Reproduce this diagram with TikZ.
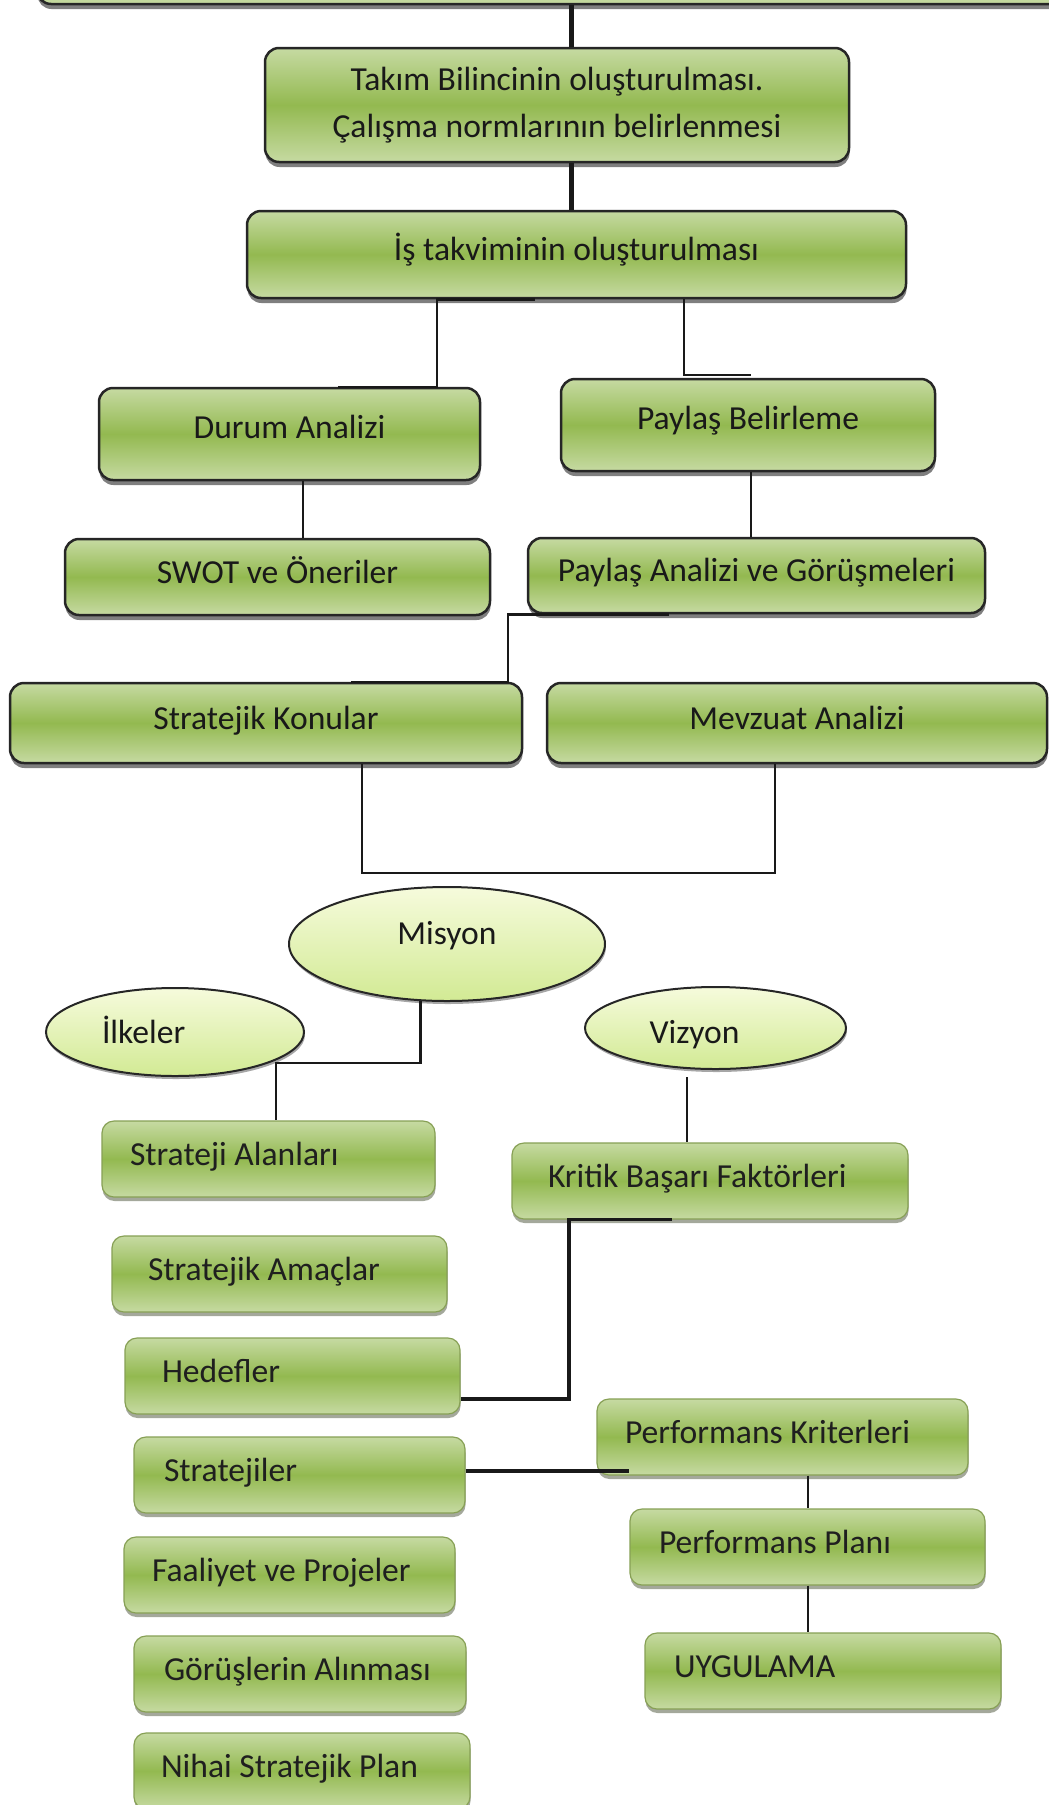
\documentclass[tikz,border=0pt]{standalone}
\usepackage{fontspec}
\setmainfont{Carlito}
\usetikzlibrary{shadows,shapes.geometric,calc}
\definecolor{boxL}{RGB}{198,218,162}
\definecolor{boxM}{RGB}{147,185,80}
\definecolor{boxB}{RGB}{135,160,85}
\definecolor{ellT}{RGB}{246,251,220}
\definecolor{ellB}{RGB}{210,234,148}
\newcommand\dgfont{\fontsize{33.6}{47}\selectfont}
\newcommand\lefttxt[2]{\makebox[#1][l]{#2}}
\tikzset{
  boxbase/.style={rectangle, rounded corners=14pt, draw=black!85, line width=2.5pt,
    top color=boxL, bottom color=boxL, middle color=boxM,
    drop shadow={shadow xshift=0.5pt, shadow yshift=-5pt, fill=black, opacity=0.5},
    font=\dgfont, text=black!90, inner sep=0pt, align=center},
  ubox/.style={boxbase, text height=24pt, text depth=12pt},
  lbox/.style={rectangle, rounded corners=12pt, draw=boxB, line width=1.2pt,
    top color=boxL, bottom color=boxL, middle color=boxM,
    drop shadow={shadow xshift=0.5pt, shadow yshift=-4pt, fill=black!60!boxB, opacity=0.45},
    font=\dgfont, text=black!88, inner sep=0pt,
    text height=24pt, text depth=12pt},
  ell/.style={ellipse, draw=black!85, line width=2pt, top color=ellT, bottom color=ellB,
    drop shadow={shadow xshift=1pt, shadow yshift=-3pt, fill=black, opacity=0.35},
    font=\dgfont, text=black!90, inner sep=0pt},
  conn/.style={draw=black!90, line width=2.5pt},
  midconn/.style={draw=black!90, line width=3.5pt},
  thickconn/.style={draw=black!90, line width=5pt}
}
\begin{document}
\begin{tikzpicture}[x=1pt,y=-1pt]
\useasboundingbox (0,0) rectangle (1049,1805);
\fill[white] (0,0) rectangle (1049,1805);
\clip (0,0) rectangle (1049,1805);

% upper boxes
\node[ubox, minimum width=1064pt, minimum height=108pt] (topbox) at (569,-50) {};
\node[boxbase, minimum width=584pt, minimum height=114pt] (takim) at (557,105)
  {Takım Bilincinin oluşturulması.\\Çalışma normlarının belirlenmesi};
\node[ubox, minimum width=659pt, minimum height=87pt] (is) at (576.5,254.5) {İş takviminin oluşturulması};
\node[ubox, minimum width=381pt, minimum height=92pt, text depth=16pt] (durum) at (289.5,434) {Durum Analizi};
\node[ubox, minimum width=374pt, minimum height=92pt, text depth=16pt] (paylasB) at (748,425) {Paylaş Belirleme};
\node[ubox, minimum width=425pt, minimum height=76pt] (swot) at (277.5,577) {SWOT ve Öneriler};
\node[ubox, minimum width=457pt, minimum height=75pt] (paylasA) at (756.5,575.5) {Paylaş Analizi ve Görüşmeleri};
\node[ubox, minimum width=512pt, minimum height=80pt] (stratK) at (266,723) {Stratejik Konular};
\node[ubox, minimum width=500pt, minimum height=80pt] (mevzuat) at (797,723) {Mevzuat Analizi};

% ellipses
\node[ell, minimum width=316pt, minimum height=114pt, text height=20pt, text depth=20pt] (misyon) at (447,944) {Misyon};
\node[ell, minimum width=258pt, minimum height=88pt, text height=24pt, text depth=2pt] (ilkeler) at (175,1032) {\lefttxt{146pt}{İlkeler}};
\node[ell, minimum width=261pt, minimum height=82pt, text height=32pt, text depth=2pt] (vizyon) at (715.5,1028) {\lefttxt{132pt}{Vizyon}};

% lower boxes
\node[lbox, minimum width=333pt, minimum height=76pt] (stratA) at (268.5,1159) {\lefttxt{277pt}{Strateji Alanları}};
\node[lbox, minimum width=396pt, minimum height=76pt] (kritik) at (710,1181) {\lefttxt{324pt}{Kritik Başarı Faktörleri}};
\node[lbox, minimum width=335pt, minimum height=76pt] (amac) at (279.5,1274) {\lefttxt{263pt}{Stratejik Amaçlar}};
\node[lbox, minimum width=335pt, minimum height=76pt] (hedef) at (292.5,1376) {\lefttxt{261pt}{Hedefler}};
\node[lbox, minimum width=331pt, minimum height=76pt] (stratjiler) at (299.5,1475) {\lefttxt{271pt}{Stratejiler}};
\node[lbox, minimum width=371pt, minimum height=76pt] (perfK) at (782.5,1437) {\lefttxt{315pt}{Performans Kriterleri}};
\node[lbox, minimum width=355pt, minimum height=76pt] (perfP) at (807.5,1547) {\lefttxt{297pt}{Performans Planı}};
\node[lbox, minimum width=356pt, minimum height=76pt] (uyg) at (823,1671) {\lefttxt{298pt}{UYGULAMA}};
\node[lbox, minimum width=331pt, minimum height=76pt] (faal) at (289.5,1575) {\lefttxt{275pt}{Faaliyet ve Projeler}};
\node[lbox, minimum width=332pt, minimum height=76pt] (gorus) at (300,1674) {\lefttxt{272pt}{Görüşlerin Alınması}};
\node[lbox, minimum width=336pt, minimum height=76pt] (nihai) at (302,1771) {\lefttxt{282pt}{Nihai Stratejik Plan}};

% free ends
\coordinate (pkend) at (629,1471);

% connectors
\draw[thickconn] (topbox.south -| 571,0) -- (takim.north -| 571,0);
\draw[thickconn] (takim.south -| 571,0) -- (is.north -| 571,0);
\draw[conn] (is.south -| 535,0) -- (is.south -| 437,0) -- (durum.north -| 437,0) -- (durum.north -| 338,0);
\draw[conn] (is.south -| 684,0) |- ([yshift=3pt]paylasB.north -| 751,0);
\draw[conn] (durum.south -| 303,0) -- (swot.north -| 303,0);
\draw[conn] (paylasB.south -| 751,0) -- (paylasA.north -| 751,0);
\draw[conn] (paylasA.south -| 669,0) -- (paylasA.south -| 508,0) -- (stratK.north -| 508,0) -- (stratK.north -| 351,0);
\draw[conn] (stratK.south -| 362,0) |- (775,873) -- (mevzuat.south -| 775,0);
\draw[conn] (misyon.245) |- (276,1063) -- (stratA.north -| 276,0);
\draw[conn] (vizyon.south -| 687,0) ++(0,7) -- (kritik.north -| 687,0);
\draw[midconn] (kritik.south -| 672,0) -- (kritik.south -| 569,0) |- (hedef.east |- 0,1399);
\draw[midconn] (stratjiler.east |- 0,1471) -- (pkend);
\draw[conn] (perfK.south -| 808,0) -- (perfP.north -| 808,0);
\draw[conn] (perfP.south -| 808,0) -- (uyg.north -| 808,0);
\end{tikzpicture}
\end{document}
